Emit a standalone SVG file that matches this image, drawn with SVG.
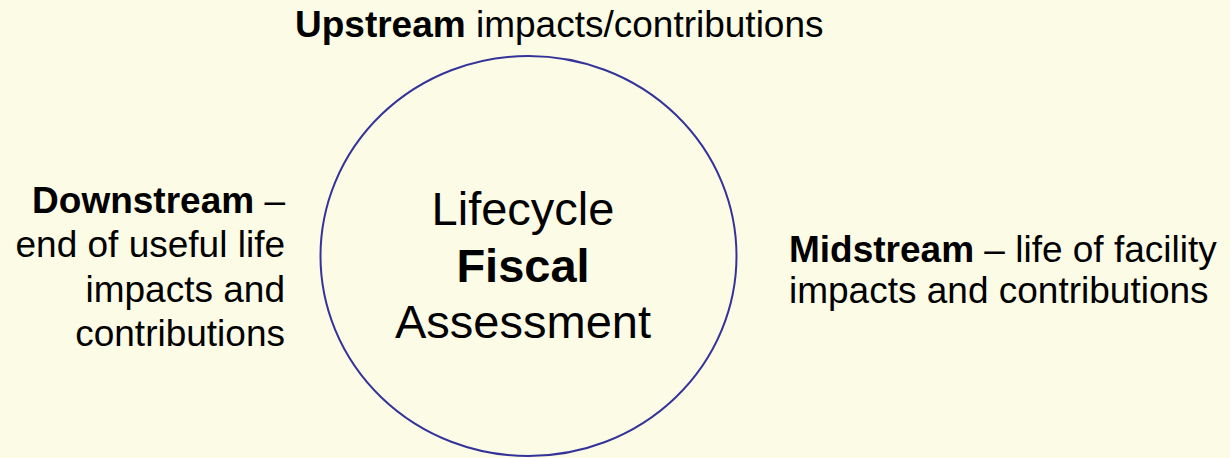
<svg xmlns="http://www.w3.org/2000/svg" width="1230" height="458" viewBox="0 0 1230 458">
  <style>
    text { font-family: "Liberation Sans", Arial, sans-serif; fill: #000; }
    .lbl { font-size: 37px; }
    .ctr { font-size: 47px; text-anchor: middle; }
    .b { font-weight: bold; }
    .ring { fill: none; stroke: #333399; stroke-width: 2; }
  </style>
  <rect x="0" y="0" width="1230" height="458" fill="#FCFBE6"/>
  <g id="connectors"></g>
  <g id="lifecycle">
    <ellipse class="ring" cx="528.5" cy="256" rx="208" ry="200"/>
    <text class="ctr" x="523" y="225">Lifecycle</text>
    <text class="ctr b" x="523" y="282">Fiscal</text>
    <text class="ctr" x="523" y="338">Assessment</text>
  </g>
  <g id="upstream">
    <text class="lbl" x="295" y="37"><tspan class="b">Upstream</tspan> impacts/contributions</text>
  </g>
  <g id="downstream">
    <text class="lbl" text-anchor="end" x="285" y="213"><tspan class="b">Downstream</tspan> –</text>
    <text class="lbl" text-anchor="end" x="285" y="257">end of useful life</text>
    <text class="lbl" text-anchor="end" x="285" y="302">impacts and</text>
    <text class="lbl" text-anchor="end" x="285" y="346">contributions</text>
  </g>
  <g id="midstream">
    <text class="lbl" x="789" y="262"><tspan class="b">Midstream</tspan> – life of facility</text>
    <text class="lbl" x="789" y="303">impacts and contributions</text>
  </g>
</svg>
